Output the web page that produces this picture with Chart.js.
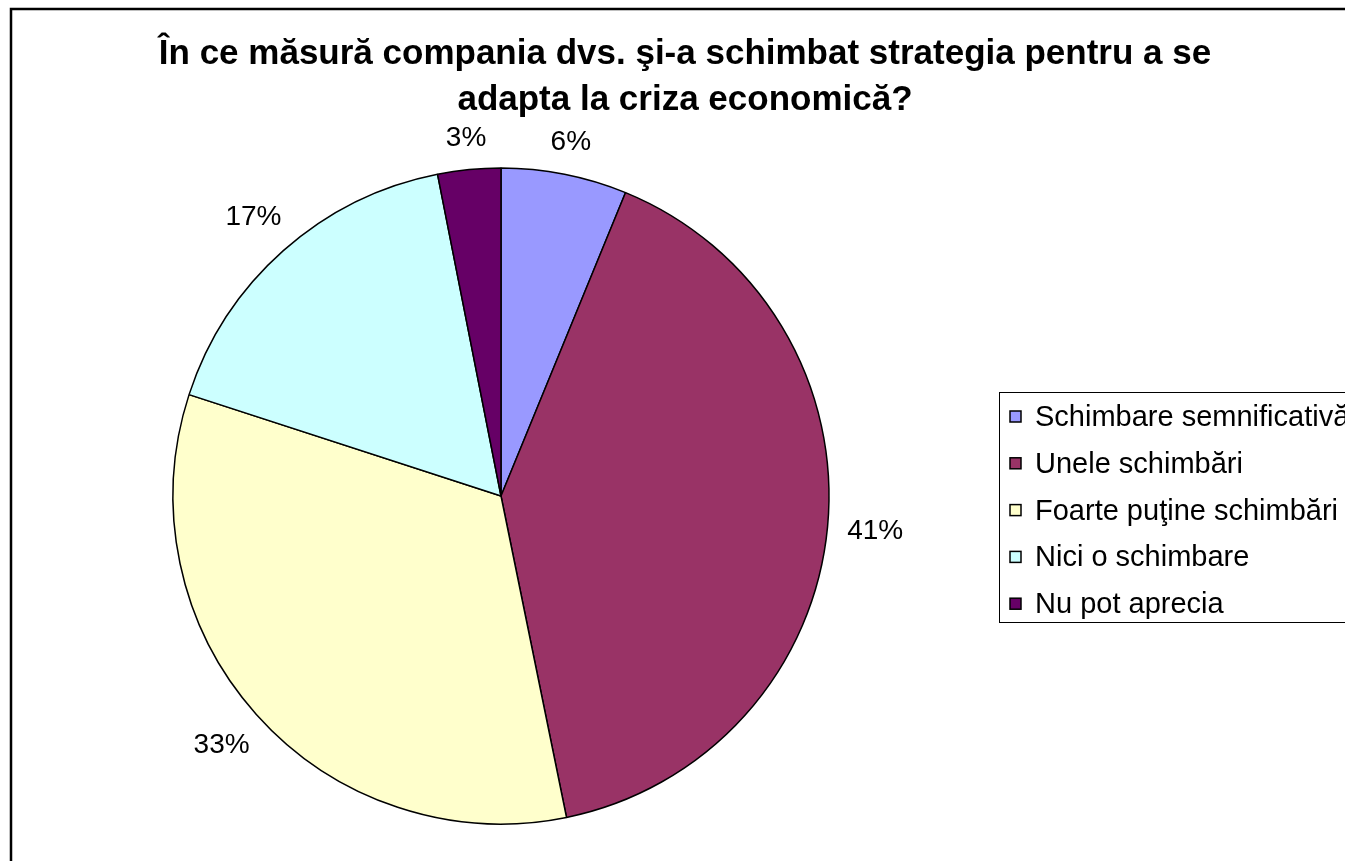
<!DOCTYPE html>
<html>
<head>
<meta charset="utf-8">
<script src="https://cdn.jsdelivr.net/npm/chart.js@4/dist/chart.umd.min.js"></script>
<style>
  html, body { margin: 0; padding: 0; background: #fff; overflow: hidden; }
  #wrap { position: relative; width: 1345px; height: 861px; overflow: hidden; }
  #pie { position: absolute; left: 0; top: 0; }
</style>
</head>
<body>
<div id="wrap"><canvas id="pie" width="1420" height="900"></canvas></div>
<script>
const titleLines = ["În ce măsură compania dvs. şi-a schimbat strategia pentru a se", "adapta la criza economică?"];
const categories = ["Schimbare semnificativă", "Unele schimbări", "Foarte puţine schimbări", "Nici o schimbare", "Nu pot aprecia"];
const shares = [6.2, 40.6, 33.2, 16.9, 3.1];
const sliceColors = ["#9999FF", "#993366", "#FFFFCC", "#CCFFFF", "#660066"];

const FONT = "'Liberation Sans', Arial, sans-serif";

// cadru, titlu, etichete procentuale si legenda
const decor = {
  id: "decor",
  afterDraw(chart) {
    const ctx = chart.ctx;
    ctx.save();
    ctx.strokeStyle = "#000";
    ctx.lineWidth = 2.5;
    ctx.strokeRect(11, 9, 1400, 900);

    ctx.fillStyle = "#000";
    ctx.textAlign = "center";
    ctx.textBaseline = "alphabetic";
    ctx.font = "bold 35px " + FONT;
    ctx.fillText(titleLines[0], 685, 64);
    ctx.fillText(titleLines[1], 685, 110);

    // etichete in afara feliilor
    const meta = chart.getDatasetMeta(0);
    const total = shares.reduce((a, b) => a + b, 0);
    ctx.font = "28px " + FONT;
    ctx.textBaseline = "middle";
    meta.data.forEach((arc, i) => {
      const mid = (arc.startAngle + arc.endAngle) / 2;
      const dx = Math.cos(mid), dy = Math.sin(mid);
      const txt = Math.round(shares[i] / total * 100) + "%";
      const w = ctx.measureText(txt).width, h = 20;
      const r = arc.outerRadius + 19 + Math.abs(dx) * w / 2 + Math.abs(dy) * h / 2;
      ctx.fillText(txt, arc.x + dx * r, arc.y + dy * r);
    });

    // legenda
    ctx.lineWidth = 1;
    ctx.strokeStyle = "#000";
    ctx.strokeRect(999.5, 392.5, 500, 230);
    ctx.textAlign = "left";
    ctx.font = "29px " + FONT;
    categories.forEach((c, i) => {
      const y = 417 + i * 46.8;
      ctx.fillStyle = sliceColors[i];
      ctx.fillRect(1010, y - 6, 11, 11);
      ctx.lineWidth = 1.5;
      ctx.strokeRect(1010, y - 6, 11, 11);
      ctx.fillStyle = "#000";
      ctx.fillText(c, 1035, y + 1);
    });
    ctx.restore();
  }
};

new Chart(document.getElementById("pie"), {
  type: "pie",
  data: {
    labels: categories,
    datasets: [{
      data: shares,
      backgroundColor: sliceColors,
      borderColor: "#000",
      borderWidth: 1.5,
      radius: 328
    }]
  },
  options: {
    responsive: false,
    animation: false,
    layout: { padding: { left: 173, right: 591, top: 168, bottom: 76 } },
    plugins: {
      legend: { display: false },
      title: { display: false },
      tooltip: { enabled: false }
    }
  },
  plugins: [decor]
});
</script>
</body>
</html>
